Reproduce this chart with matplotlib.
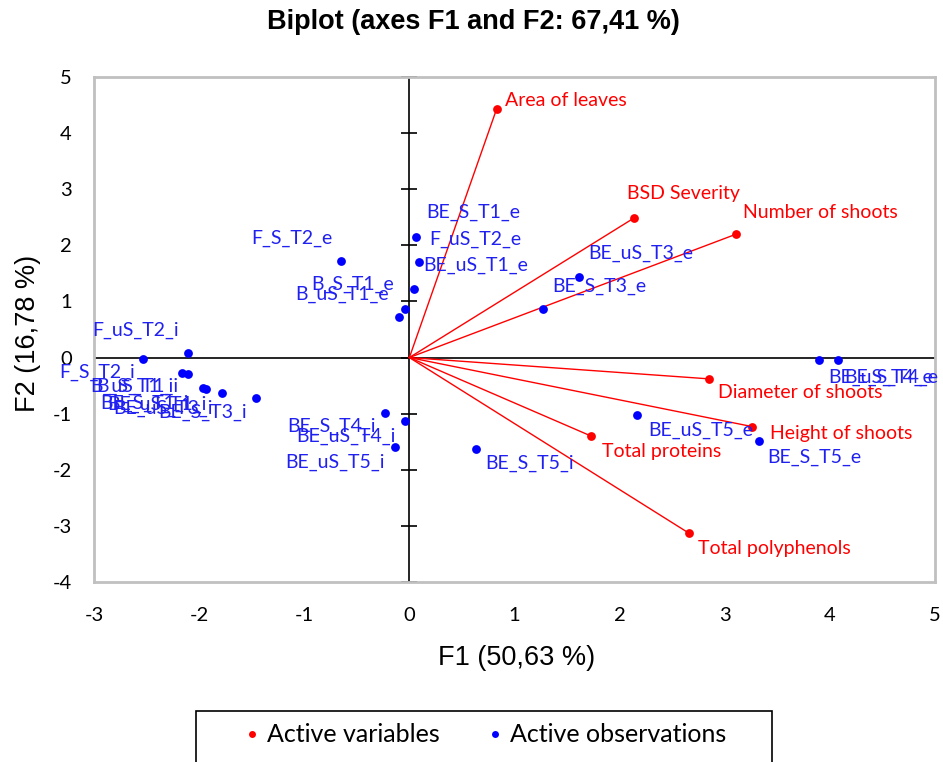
"""
PCA biplot (F1 x F2) of shoot/leaf variables and observations.
"""

import numpy as np
import matplotlib.pyplot as plt
from matplotlib.lines import Line2D
from matplotlib.patches import Rectangle

plt.rcParams["axes.unicode_minus"] = False

# active variables: loadings on F1/F2 and where their labels sit
var_names = ["Area of leaves", "BSD Severity", "Number of shoots", "Diameter of shoots",
             "Height of shoots", "Total proteins", "Total polyphenols"]
var_f1 = [0.83, 2.14, 3.11, 2.85, 3.26, 1.73, 2.66]
var_f2 = [4.43, 2.49, 2.20, -0.38, -1.23, -1.40, -3.13]
var_lab_f1 = [0.91, 2.07, 3.17, 2.94, 3.43, 1.83, 2.75]
var_lab_f2 = [4.58, 2.93, 2.59, -0.63, -1.35, -1.68, -3.40]

# active observations: scores on F1/F2 and label positions
obs_names = ["F_uS_T2_i", "F_S_T2_i", "B_uS_T1_i", "B_S_T1_i",
             "BE_S_T1_i", "BE_uS_T1_i", "BE_uS_T3_i", "BE_S_T3_i",
             "F_S_T2_e", "BE_S_T1_e", "F_uS_T2_e", "BE_uS_T1_e",
             "B_S_T1_e", "B_uS_T1_e", "BE_uS_T3_e", "BE_S_T3_e",
             "BE_uS_T4_e", "BE_S_T4_e", "BE_uS_T5_e", "BE_S_T5_e",
             "BE_S_T4_i", "BE_uS_T4_i", "BE_uS_T5_i", "BE_S_T5_i"]
obs_f1 = [-2.53, -2.11, -2.16, -2.11, -1.96, -1.93, -1.78, -1.46,
          -0.65, 0.06, 0.09, 0.04, -0.04, -0.10, 1.61, 1.27,
          3.90, 4.08, 2.17, 3.33, -0.23, -0.04, -0.14, 0.63]
obs_f2 = [-0.02, 0.08, -0.27, -0.29, -0.54, -0.56, -0.63, -0.72,
          1.72, 2.15, 1.70, 1.22, 0.87, 0.72, 1.44, 0.87,
          -0.04, -0.04, -1.02, -1.49, -0.99, -1.13, -1.59, -1.63]
obs_lab_f1 = [-3.02, -3.33, -3.04, -2.98, -2.94, -2.87, -2.82, -2.39,
              -1.50, 0.16, 0.19, 0.13, -0.93, -1.09, 1.70, 1.36,
              3.98, 4.14, 2.27, 3.40, -1.16, -1.08, -1.18, 0.72]
obs_lab_f2 = [0.49, -0.27, -0.52, -0.52, -0.81, -0.84, -0.90, -0.97,
              2.13, 2.58, 2.11, 1.65, 1.31, 1.13, 1.85, 1.26,
              -0.35, -0.35, -1.30, -1.77, -1.23, -1.41, -1.86, -1.88]

x_ticks = np.arange(-3, 6)
y_ticks = np.arange(-4, 6)

LABEL_FONT = ["Lato", "DejaVu Sans"]
TICK_FONT = ["Lato", "DejaVu Sans"]

fig = plt.figure(figsize=(9.43, 7.62), dpi=100)
ax = fig.add_axes([0.0997, 0.2362, 0.8918, 0.6628])

# zero lines with small cross ticks on the vertical one
ax.axhline(0, color="black", lw=1.2, zorder=1)
ax.axvline(0, color="black", lw=1.2, zorder=1)
ax.plot(np.zeros(len(y_ticks)), y_ticks, ls="none", marker="_", ms=12,
        mew=1.2, color="black", zorder=1, clip_on=False)

for name, x, y, lx, ly in zip(var_names, var_f1, var_f2, var_lab_f1, var_lab_f2):
    ax.plot([0, x], [0, y], color="red", lw=1.0, zorder=2)
    ax.text(lx, ly, name, color="red", fontsize=14, family=LABEL_FONT,
            ha="left", va="center")
ax.scatter(var_f1, var_f2, s=40, color="red", zorder=3, linewidths=0)

ax.scatter(obs_f1, obs_f2, s=40, color="blue", zorder=3, linewidths=0)
for name, lx, ly in zip(obs_names, obs_lab_f1, obs_lab_f2):
    ax.text(lx, ly, name, color="#2020f0", fontsize=14, family=LABEL_FONT,
            ha="left", va="center")

ax.set_xlim(-3, 5)
ax.set_ylim(-4, 5)
ax.set_xticks(x_ticks)
ax.set_yticks(y_ticks)
ax.tick_params(length=0, labelsize=14.5)
ax.tick_params(axis="x", pad=18)
ax.tick_params(axis="y", pad=16)
for lab in ax.get_xticklabels() + ax.get_yticklabels():
    lab.set_family(TICK_FONT)
for sp in ax.spines.values():
    sp.set_color("#c0c0c0")
    sp.set_linewidth(2)

ax.set_xlabel("F1 (50,63 %)", fontsize=19.5, family=["Liberation Sans"], va="center")
ax.xaxis.set_label_coords(0.502, -0.150)
ax.set_ylabel("F2 (16,78 %)", fontsize=19.5, family=["Liberation Sans"], va="center")
ax.yaxis.set_label_coords(-0.0785, 0.493)

fig.text(0.5016, 1 - 22 / 762, "Biplot (axes F1 and F2: 67,41 %)", fontsize=19.5,
         fontweight="bold", family=["Liberation Sans Narrow", "Liberation Sans"],
         ha="center", va="center")

# legend box runs off the bottom of the figure, as in the original
fig.patches.append(Rectangle((196 / 943, -0.05), 576 / 943, 0.05 + 51 / 762,
                             transform=fig.transFigure, fill=False,
                             edgecolor="black", lw=1.2))
handles = [Line2D([], [], ls="none", marker="o", ms=5, color="red", mew=0),
           Line2D([], [], ls="none", marker="o", ms=5, color="blue", mew=0)]
fig.legend(handles, ["Active variables", "Active observations"], loc="center",
           bbox_to_anchor=(484 / 943, 1 - 735 / 762), ncol=2, frameon=False,
           prop={"family": LABEL_FONT, "size": 18}, handletextpad=0.2,
           columnspacing=1.8, handlelength=0.8)

fig.savefig("out.png", dpi=100)
